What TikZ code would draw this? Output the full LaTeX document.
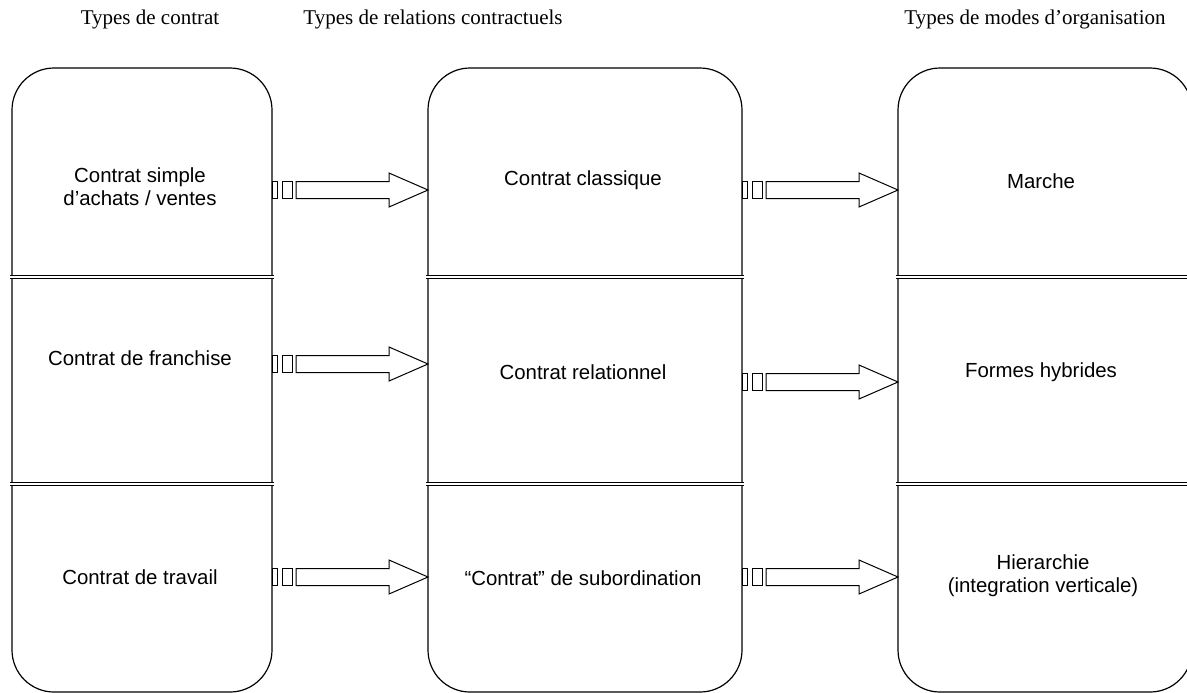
\documentclass[tikz,border=0pt]{standalone}
\usepackage{fontspec}
\setmainfont{Liberation Serif}
\setsansfont{Liberation Sans}
\usetikzlibrary{calc,positioning}
\tikzset{
  stage box/.style={draw,line width=.6pt,rounded corners=21pt,inner sep=0pt,outer sep=0pt},
  stage label/.style={font=\sffamily\fontsize{10.2}{11.5}\selectfont,align=center},
  column title/.style={font=\fontsize{10.5}{12}\selectfont,inner sep=0pt},
  row divider/.style={double,line width=.5pt,double distance=1pt,line cap=butt},
  flow arrow/.style={line width=.5pt,fill=white,line join=miter}
}
\newcommand{\FlowArrow}[2]{%
  \draw[flow arrow] ($(#1)+(0,-8.5)$) rectangle ($(#1)+(5,8.5)$);
  \draw[flow arrow] ($(#1)+(10,-8.5)$) rectangle ($(#1)+(20,8.5)$);
  \draw[flow arrow] ($(#1)+(24,-8.5)$) -- ($(#2)+(-39,-8.5)$) -- ($(#2)+(-39,-17)$) -- (#2)
    -- ($(#2)+(-39,17)$) -- ($(#2)+(-39,8.5)$) -- ($(#1)+(24,8.5)$) -- cycle;}

\begin{document}
\begin{tikzpicture}[x=0.5pt,y=-0.5pt,line cap=round,line join=round]
  \useasboundingbox (0,0) rectangle (1187,692);

  % column titles
  \node[column title] (t1) at (150,19) {Types de contrat};
  \node[column title] (t2) at (433,19) {Types de relations contractuels};
  \node[column title] (t3) at (1035,19) {Types de modes d’organisation};

  % the three columns
  \node[stage box,minimum width=130pt,minimum height=312pt] (cbox) at (142,380) {};
  \node[stage box,minimum width=157pt,minimum height=312pt] (rbox) at (585,380) {};
  \node[stage box,minimum width=147pt,minimum height=312pt] (obox) at (1045,380) {};

  \foreach \b in {cbox,rbox,obox}
    \foreach \y in {277,484}
      \draw[row divider] ($(\b.west |- 0,\y)+(-2,0)$) -- ($(\b.east |- 0,\y)+(2,0)$);

  \node[stage label] (c1) at (140,187) {Contrat simple\\d’achats / ventes};
  \node[stage label] (c2) at (140,358) {Contrat de franchise};
  \node[stage label] (c3) at (140,577) {Contrat de travail};
  \node[stage label] (r1) at (583,180) {Contrat classique};
  \node[stage label] (r2) at (583,372) {Contrat relationnel};
  \node[stage label] (r3) at (583,578) {“Contrat” de subordination};
  \node[stage label] (o1) at (1041,181) {Marche};
  \node[stage label] (o2) at (1041,372) {Formes hybrides};
  \node[stage label] (o3) at (1043,576) {Hierarchie\\(integration verticale)};

  % arrows between columns
  \foreach \y in {190,364,577} {
    \coordinate (s) at (cbox.east |- 0,\y);
    \coordinate (e) at (rbox.west |- 0,\y);
    \FlowArrow{s}{e}
  }
  \foreach \y in {190,382,577} {
    \coordinate (s) at (rbox.east |- 0,\y);
    \coordinate (e) at (obox.west |- 0,\y);
    \FlowArrow{s}{e}
  }
\end{tikzpicture}
\end{document}
